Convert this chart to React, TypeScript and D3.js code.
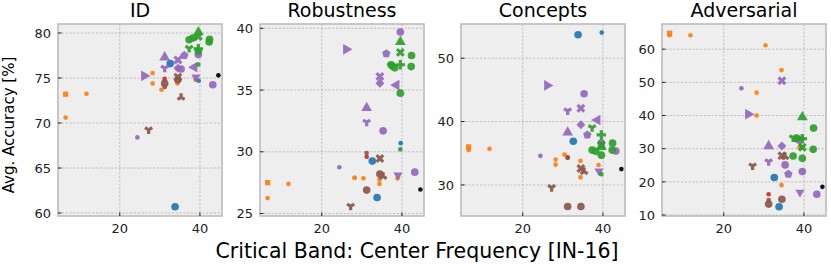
import React from 'react';
import * as d3 from 'd3';

const W = 831;
const H = 264;

const panelTitles = ['ID', 'Robustness', 'Concepts', 'Adversarial'];
const xTicks = [20, 40];
const yTicks = [
  [60, 65, 70, 75, 80],
  [25, 30, 35, 40],
  [30, 40, 50],
  [10, 20, 30, 40, 50, 60],
];
const yDomains = [
  [59.67, 81.0],
  [24.8, 40.35],
  [25.1, 55.4],
  [9.7, 67.6],
];
const xDomain = [4.6, 45.5];

// one entry per model
const centerFreq = [
  6.5, 6.5, 11.7, 28.2, 28.2, 30.4, 34.4, 34.4, 38.9,
  32.6, 33.8, 39.7,
  31.2,
  24.4, 26.1, 31.2, 31.2, 34.5, 34.5, 35.3, 36.1, 38.6, 39.0, 39.6, 43.2,
  27.2, 31.2, 31.2, 34.5, 34.5, 35.3,
  44.6,
  39.6, 39.6, 37.3, 38.2, 42.4, 37.3, 39.6, 39.6, 39.6, 42.3,
];
const idAcc = [
  73.2, 70.6, 73.25, 75.55, 74.4, 73.7, 76.0, 74.4, 74.8,
  76.6, 60.7, 74.7,
  74.9,
  68.4, 75.25, 77.3, 76.1, 77.0, 76.1, 76.0, 77.5, 76.2, 75.1, 77.6, 74.25,
  69.25, 74.4, 74.0, 75.1, 74.8, 72.85,
  75.3,
  80.1, 79.6, 79.25, 79.45, 79.3, 78.3, 78.25, 76.5, 78.0, 79.0,
];
const robustnessAcc = [
  27.5, 26.25, 27.4, 27.9, 27.9, 27.85, 27.75, 27.4, 27.85,
  29.25, 26.3, 30.7,
  29.6,
  28.75, 38.3, 33.55, 32.4, 36.1, 35.55, 31.7, 37.95, 35.4, 28.1, 39.7, 28.35,
  25.6, 26.9, 29.9, 29.45, 28.2, 28.0,
  26.95,
  38.9, 38.05, 37.05, 36.8, 37.8, 37.0, 37.05, 30.2, 34.75, 36.9,
];
const conceptsAcc = [
  36.0, 35.5, 35.7, 34.0, 33.2, 34.8, 33.8, 31.2, 33.15,
  36.9, 53.7, 54.05,
  34.35,
  34.6, 45.7, 38.3, 41.7, 42.1, 39.5, 44.4, 37.9, 40.25, 32.2, 36.6, 35.35,
  29.6, 26.6, 34.3, 32.6, 26.6, 32.1,
  32.5,
  36.0, 36.3, 35.5, 35.3, 36.6, 39.05, 37.9, 31.7, 34.7, 35.5,
];
const adversarialAcc = [
  64.8, 64.2, 64.2, 46.9, 40.0, 61.2, 53.7, 19.0, 30.4,
  21.3, 12.5, 33.0,
  16.25,
  48.2, 40.4, 30.8, 26.1, 50.5, 30.8, 25.1, 22.3, 32.5, 16.85, 23.1, 16.25,
  24.8, 13.3, 14.5, 27.9, 14.75, 27.6,
  18.5,
  39.5, 30.4, 27.8, 33.2, 36.2, 33.3, 33.0, 30.4, 27.1, 29.8,
];
const panelValues = [idAcc, robustnessAcc, conceptsAcc, adversarialAcc];

// model family (colour) and marker kind
const family = [
  'orange', 'orange', 'orange', 'orange', 'orange', 'orange', 'orange', 'orange', 'orange',
  'blue', 'blue', 'blue',
  'red',
  'purple', 'purple', 'purple', 'purple', 'purple', 'purple', 'purple', 'purple', 'purple', 'purple', 'purple', 'purple',
  'brown', 'brown', 'brown', 'brown', 'brown', 'brown',
  'black',
  'green', 'green', 'green', 'green', 'green', 'green', 'green', 'green', 'green', 'green',
];
const markerKind = [
  's', 'o', 'o', 'o', 'o', 'o', 'o', 'o', 'o',
  'O', 'O', 'o',
  'o',
  'o', '>', '^', 'wye', 'X', 'D', 'O', 'p', '<', 'v', 'O', 'O',
  'wye', 'O', 'o', 'X', 'O', 'wyeDown',
  'o',
  '^', 'X', 'O', 'O', 'O', 'wye', 'P', 'o', 'O', 'O',
];

const colors: Record<string, string> = {
  orange: '#ff7f0e',
  blue: '#1f77b4',
  red: '#d62728',
  purple: '#9467bd',
  brown: '#8c564b',
  black: '#000000',
  green: '#2ca02c',
};

const pentagon = {
  draw(ctx: any, size: number) {
    const r = Math.sqrt(size) * 0.62;
    for (let i = 0; i < 5; i++) {
      const a = -Math.PI / 2 + (i * 2 * Math.PI) / 5;
      const px = r * Math.cos(a);
      const py = r * Math.sin(a);
      if (i === 0) ctx.moveTo(px, py);
      else ctx.lineTo(px, py);
    }
    ctx.closePath();
  },
};

function markerPath(kind: string) {
  const big = 46;
  const med = 50;
  const small = 17;
  switch (kind) {
    case 'O': return { d: d3.symbol(d3.symbolCircle, big)(), rot: 0 };
    case 'o': return { d: d3.symbol(d3.symbolCircle, small)(), rot: 0 };
    case 's': return { d: d3.symbol(d3.symbolSquare, 28)(), rot: 0 };
    case '^': return { d: d3.symbol(d3.symbolTriangle, med)(), rot: 0 };
    case 'v': return { d: d3.symbol(d3.symbolTriangle, 36)(), rot: 180 };
    case '<': return { d: d3.symbol(d3.symbolTriangle, med)(), rot: -90 };
    case '>': return { d: d3.symbol(d3.symbolTriangle, med)(), rot: 90 };
    case 'X': return { d: d3.symbol(d3.symbolCross, med)(), rot: 45 };
    case 'P': return { d: d3.symbol(d3.symbolCross, med)(), rot: 0 };
    case 'D': return { d: d3.symbol(d3.symbolSquare, 40)(), rot: 45 };
    case 'p': return { d: d3.symbol(pentagon as any, med)(), rot: 0 };
    case 'wye': return { d: d3.symbol(d3.symbolWye, 36)(), rot: 0 };
    case 'wyeDown': return { d: d3.symbol(d3.symbolWye, 36)(), rot: 180 };
    default: return { d: d3.symbol(d3.symbolCircle, small)(), rot: 0 };
  }
}

const font = '"DejaVu Sans", sans-serif';
const panelLeft = [58, 260, 461, 662];
const panelW = 164;
const top = 24;
const bottom = 216;

function Panel({ idx }: { idx: number }) {
  const x0 = panelLeft[idx];
  const x = d3.scaleLinear().domain(xDomain).range([x0, x0 + panelW]);
  const y = d3.scaleLinear().domain(yDomains[idx]).range([bottom, top]);
  const vals = panelValues[idx];
  return (
    <g>
      <rect x={x0} y={top} width={panelW} height={bottom - top} fill="#eeeeee" />
      {xTicks.map((t) => (
        <line key={'gx' + t} x1={x(t)} x2={x(t)} y1={top} y2={bottom}
          stroke="#b2b2b2" strokeWidth={0.8} strokeDasharray="2.2,1.6" />
      ))}
      {yTicks[idx].map((t) => (
        <line key={'gy' + t} x1={x0} x2={x0 + panelW} y1={y(t)} y2={y(t)}
          stroke="#b2b2b2" strokeWidth={0.8} strokeDasharray="2.2,1.6" />
      ))}
      {centerFreq.map((cf, i) => {
        const m = markerPath(markerKind[i]);
        return (
          <path key={i} d={m.d || ''}
            transform={`translate(${x(cf)},${y(vals[i])}) rotate(${m.rot})`}
            fill={colors[family[i]]} fillOpacity={0.92} />
        );
      })}
      <rect x={x0} y={top} width={panelW} height={bottom - top} fill="none"
        stroke="#bcbcbc" strokeWidth={1.6} />
      {xTicks.map((t) => (
        <g key={'tx' + t}>
          <line x1={x(t)} x2={x(t)} y1={bottom} y2={bottom - 3.5} stroke="#222" strokeWidth={1} />
          <text x={x(t)} y={bottom + 17} textAnchor="middle" fontSize={13} fontFamily={font} fill="#222">{t}</text>
        </g>
      ))}
      {yTicks[idx].map((t) => (
        <g key={'ty' + t}>
          <line x1={x0} x2={x0 + 3.5} y1={y(t)} y2={y(t)} stroke="#222" strokeWidth={1} />
          <text x={x0 - 7} y={y(t) + 4.7} textAnchor="end" fontSize={13} fontFamily={font} fill="#222">{t}</text>
        </g>
      ))}
      <text x={x0 + panelW / 2} y={17} textAnchor="middle" fontSize={19} fontFamily={font} fill="#000">
        {panelTitles[idx]}
      </text>
    </g>
  );
}

export default function App() {
  return (
    <svg width={W} height={H} style={{ position: 'absolute', left: 0, top: 0, background: '#fff' }}>
      {panelTitles.map((_, i) => <Panel key={i} idx={i} />)}
      <text transform="translate(14,125) rotate(-90)" textAnchor="middle" fontSize={15} fontFamily={font} fill="#000">
        Avg. Accuracy [%]
      </text>
      <text x={417} y={258} textAnchor="middle" fontSize={20.5} fontFamily={font} fill="#000">
        Critical Band: Center Frequency [IN-16]
      </text>
    </svg>
  );
}
